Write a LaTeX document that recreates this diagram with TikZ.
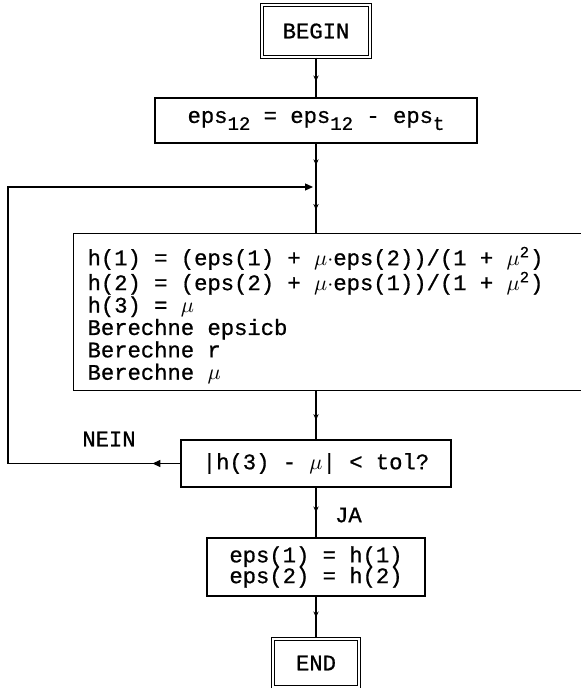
\documentclass[tikz,border=0pt]{standalone}
\usepackage{fontspec}
\setmonofont{Liberation Mono}[UprightFeatures={FakeBold=0.8}]
\usetikzlibrary{arrows.meta,decorations.markings}

\newcommand{\flowfont}{\fontsize{11.1}{11.2}\selectfont\ttfamily}
\newcommand{\tightfont}{\fontsize{11.1}{10.4}\selectfont\ttfamily}
\newcommand{\lowidx}[1]{\raisebox{-3.5pt}{\fontsize{9.5}{9.5}\selectfont#1}}

\tikzset{
  box/.style={draw, line width=0.6pt, font=\flowfont, inner sep=0pt},
  term/.style={box, double, double distance=1.2pt},
  flow/.style={line width=0.6pt, postaction={decorate},
    decoration={markings, mark=at position #1 with {\arrow{Stealth[length=3pt,width=2.6pt]}}}},
  flow/.default=0.5,
  back/.style={line width=0.6pt, -{Triangle[length=4pt,width=3.5pt]}, shorten >=1.5pt,
    postaction={decorate},
    decoration={markings, mark=at position 14pt with {\arrow{Triangle[length=4pt,width=3.5pt]}}}}
}

\begin{document}
\lineskiplimit=-100pt
\begin{tikzpicture}[x=0.5pt,y=-0.5pt]
\useasboundingbox (0,0) rectangle (581,688);

\node[term, minimum width=54pt, minimum height=26pt] (begin) at (316,31) {BEGIN};
\node[box, minimum width=161pt, minimum height=22.5pt] (shift) at (316,120.5)
  {eps\lowidx{12} = eps\lowidx{12} - eps\lowidx{t}};
\coordinate (merge) at (316,187);
\node[box, anchor=north west, minimum height=78.5pt, text width=249.5pt, inner xsep=7pt, align=left] (calc) at (73,233)
  {\spaceskip=0pt\xspaceskip=0pt\rule{0pt}{12.5pt}h(1) = (eps(1) + $\mu{\cdot}$eps(2))/(1 + $\mu$\textsuperscript{2})\\
   h(2) = (eps(2) + $\mu{\cdot}$eps(1))/(1 + $\mu$\textsuperscript{2})\\
   h(3) = $\mu$\\
   Berechne epsicb\\
   Berechne r\\
   Berechne $\mu$};
\node[box, minimum width=135pt, minimum height=23.5pt] (test) at (316,463.5) {|h(3) - $\mu$| < tol?};
\coordinate (turn) at (8,463.5);
\node[box, minimum width=109pt, minimum height=29pt, align=left, font=\tightfont] (copy) at (316,567)
  {eps(1) = h(1)\\eps(2) = h(2)};
\node[term, minimum width=43pt, minimum height=24pt] (end) at (316,663) {END};
\node[font=\flowfont] (nein) at (109,439) {NEIN};
\node[font=\flowfont, anchor=west] (ja) at (328,515) {JA};

\draw[flow=0.6] (begin) -- (shift);
\draw[flow] (shift) -- (merge);
\draw[flow] (merge) -- (merge |- calc.north);
\draw[flow=0.6] (calc.south -| test) -- (test);
\draw[flow] (test) -- (copy);
\draw[flow] (copy) -- (end);
\draw[back] (test.west) -- (turn) |- (merge);

\end{tikzpicture}
\end{document}
